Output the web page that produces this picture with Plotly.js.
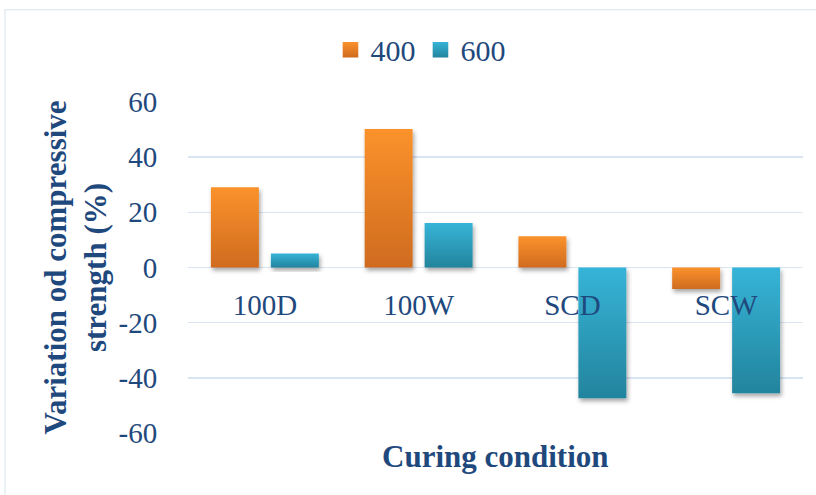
<!DOCTYPE html>
<html>
<head>
<meta charset="utf-8">
<script src="https://cdn.plot.ly/plotly-3.0.1.min.js"></script>
<style>
  html, body { margin: 0; padding: 0; background: #ffffff; }
  #chart { width: 816px; height: 495px; }
</style>
</head>
<body>
<div id="chart"></div>
<script>
// ---- data ----
const categories = ["100D", "100W", "SCD", "SCW"];
const series400 = [29.1, 50.2, 11.3, -7.8];
const series600 = [5.1, 16.1, -47.4, -45.6];
const seriesNames = ["400", "600"];
const yTickValues = [-60, -40, -20, 0, 20, 40, 60];
const yTickLabels = ["-60", "-40", "-20", "0", "20", "40", "60"];

const textColor = "#1F497D";
const serif = "Liberation Serif";

const traces = [
  {
    type: "bar",
    name: seriesNames[0],
    x: categories,
    y: series400,
    marker: { color: "#E97F25", line: { width: 0 } }
  },
  {
    type: "bar",
    name: seriesNames[1],
    x: categories,
    y: series600,
    marker: { color: "#2CA0BF", line: { width: 0 } }
  }
];

const layout = {
  width: 816,
  height: 495,
  margin: { l: 188, r: 13, t: 102, b: 62 },
  paper_bgcolor: "#ffffff",
  plot_bgcolor: "#ffffff",
  barmode: "group",
  bargap: 0.22,
  bargroupgap: 0.2,
  showlegend: true,
  legend: {
    orientation: "h",
    x: 0.378,
    xanchor: "center",
    y: 1.158,
    yanchor: "middle",
    font: { family: serif, size: 30, color: textColor },
    itemwidth: 30,
    tracegroupgap: 0
  },
  xaxis: {
    type: "category",
    anchor: "free",
    position: 0.5,
    showline: false,
    showgrid: false,
    zeroline: false,
    ticks: "outside",
    ticklen: 12,
    tickcolor: "rgba(0,0,0,0)",
    tickfont: { family: serif, size: 29, color: textColor },
    title: { text: "" }
  },
  yaxis: {
    range: [-60, 60],
    tickvals: yTickValues,
    ticktext: yTickLabels,
    showline: false,
    zeroline: false,
    showgrid: true,
    gridcolor: "#D9E5F3",
    gridwidth: 1.5,
    ticks: "outside",
    ticklen: 24,
    tickcolor: "rgba(0,0,0,0)",
    tickfont: { family: serif, size: 29, color: textColor },
    title: {
      text: "<b>Variation od compressive<br>strength (%)</b>",
      font: { family: serif, size: 31, color: textColor },
      standoff: 2
    }
  },
  annotations: [
    {
      xref: "paper", yref: "paper",
      x: (495 - 188) / 615, y: -0.072,
      xanchor: "center", yanchor: "middle",
      text: "<b>Curing condition</b>",
      showarrow: false,
      font: { family: serif, size: 31, color: textColor }
    }
  ],
  shapes: [
    {
      type: "rect", xref: "paper", yref: "paper",
      x0: -0.2976, x1: 1.05, y0: -0.3, y1: 1.279,
      line: { color: "#E3EEF2", width: 1.5 },
      fillcolor: "rgba(0,0,0,0)",
      layer: "below"
    }
  ]
};

Plotly.newPlot("chart", traces, layout, { displayModeBar: false, staticPlot: true }).then(function (gd) {
  // gradient fills and soft shadow, as in the original Excel-style chart
  const svg = gd.querySelector("svg.main-svg");
  const ns = "http://www.w3.org/2000/svg";
  const defs = document.createElementNS(ns, "defs");
  defs.innerHTML =
    '<linearGradient id="gOrange" x1="0" y1="0" x2="0" y2="1">' +
      '<stop offset="0" stop-color="#FB922C"/><stop offset="1" stop-color="#CF6B1F"/></linearGradient>' +
    '<linearGradient id="gCyan" x1="0" y1="0" x2="0" y2="1">' +
      '<stop offset="0" stop-color="#36B4D7"/><stop offset="1" stop-color="#23849D"/></linearGradient>' +
    '<filter id="shadow" x="-20%" y="-20%" width="150%" height="150%">' +
      '<feDropShadow dx="1.5" dy="3" stdDeviation="2" flood-color="#000" flood-opacity="0.35"/></filter>';
  svg.insertBefore(defs, svg.firstChild);
  const grads = ["url(#gOrange)", "url(#gCyan)"];
  gd.querySelectorAll(".barlayer .trace").forEach(function (tr, i) {
    tr.querySelectorAll("path").forEach(function (p) {
      p.style.fill = grads[i];
      p.setAttribute("filter", "url(#shadow)");
    });
  });
  gd.querySelectorAll(".legend .traces").forEach(function (tr, i) {
    tr.querySelectorAll(".legendpoints path").forEach(function (p) {
      p.style.fill = grads[i];
      const t = p.getAttribute("transform") || "";
      p.setAttribute("transform", t + " scale(1.3)");
    });
  });
});
</script>
</body>
</html>
